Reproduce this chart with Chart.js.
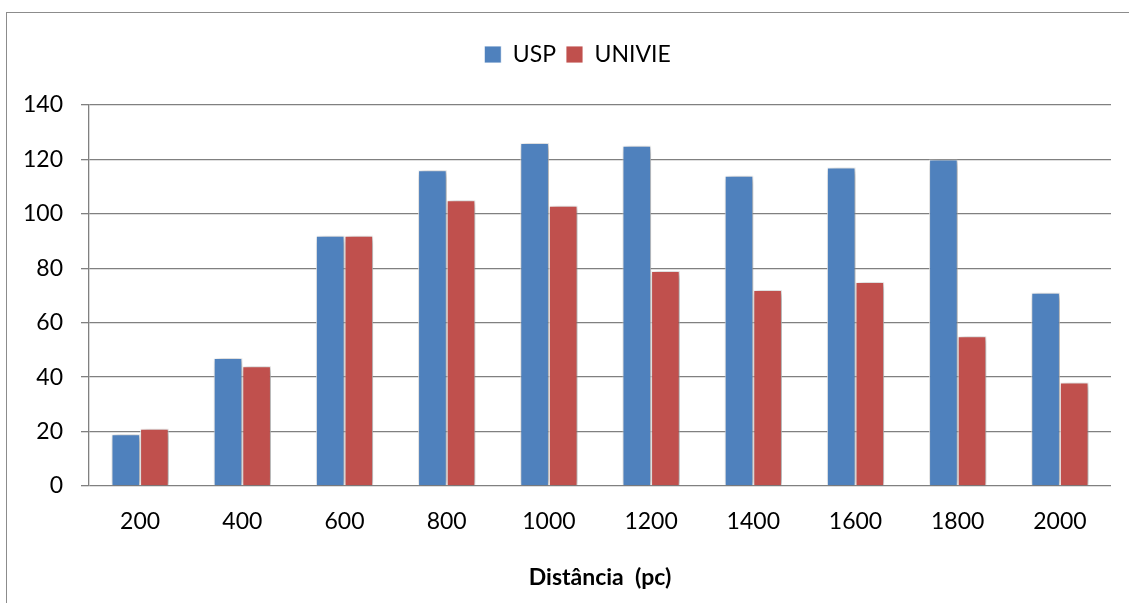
<!DOCTYPE html>
<html>
<head>
<meta charset="utf-8">
<script src="https://cdn.jsdelivr.net/npm/chart.js@4.4.1/dist/chart.umd.min.js"></script>
<style>
  body { margin: 0; background: #fff; overflow: hidden; }
  #frame { position: absolute; left: 6px; top: 12px; width: 1140px; height: 620px; border: 1px solid #8c8c8c; }
  #wrap { position: absolute; left: 0; top: 0; width: 1129px; height: 603px; }
</style>
</head>
<body>
<div id="frame"></div>
<div id="wrap"><canvas id="chart"></canvas></div>
<script>
const distances = ['200', '400', '600', '800', '1000', '1200', '1400', '1600', '1800', '2000'];
const usp = [19, 47, 92, 116, 126, 125, 114, 117, 120, 71];
const univie = [21, 44, 92, 105, 103, 79, 72, 75, 55, 38];
const yTicks = [0, 20, 40, 60, 80, 100, 120, 140];

const gridGrey = '#808080';
const font = 'Lato, "Open Sans", sans-serif';

// soft drop shadow behind the bars
const barShadow = {
  id: 'barShadow',
  beforeDatasetsDraw(chart) {
    const c = chart.ctx;
    c.save();
    c.shadowColor = 'rgba(0,0,0,0.45)';
    c.shadowBlur = 7;
    c.shadowOffsetX = 2;
    c.shadowOffsetY = 1;
  },
  afterDatasetsDraw(chart) { chart.ctx.restore(); }
};

// extra room under the legend, and nudge it over the plot centre
const legendGap = {
  id: 'legendGap',
  beforeInit(chart) {
    const fit = chart.legend.fit;
    chart.legend.fit = function () { fit.bind(chart.legend)(); this.height += 29; };
  },
  afterLayout(chart) {
    chart.legend.left += 22;
    chart.legend.right += 22;
  }
};

new Chart(document.getElementById('chart'), {
  type: 'bar',
  data: {
    labels: distances,
    datasets: [
      { label: 'USP', data: usp, backgroundColor: '#4f81bd', borderColor: 'rgba(255,255,255,0.85)', borderWidth: 1 },
      { label: 'UNIVIE', data: univie, backgroundColor: '#c0504d', borderColor: 'rgba(255,255,255,0.85)', borderWidth: 1 }
    ]
  },
  plugins: [barShadow, legendGap],
  options: {
    responsive: true,
    maintainAspectRatio: false,
    animation: false,
    layout: { padding: { top: 33, right: 18, left: 0, bottom: 0 } },
    datasets: { bar: { categoryPercentage: 0.56, barPercentage: 1 } },
    plugins: {
      tooltip: { enabled: false },
      legend: {
        position: 'top',
        labels: {
          color: '#000',
          font: { family: font, size: 23 },
          boxWidth: 17,
          boxHeight: 17,
          padding: 10
        }
      }
    },
    scales: {
      x: {
        grid: { display: false, drawTicks: false },
        border: { display: false },
        ticks: { color: '#000', font: { family: font, size: 23 }, padding: 22 },
        title: {
          display: true,
          text: 'Distância  (pc)',
          color: '#000',
          font: { family: font, size: 23, weight: 'bold' },
          padding: { top: 0, bottom: 12 }
        },
        afterFit(scale) { scale.height = 117; }
      },
      y: {
        min: 0,
        max: 140,
        afterBuildTicks(scale) { scale.ticks = yTicks.map(v => ({ value: v })); },
        grid: { color: gridGrey, lineWidth: 1.3, tickLength: 8 },
        border: { display: true, color: gridGrey, width: 1.3 },
        ticks: { color: '#000', font: { family: font, size: 23 }, padding: 18 },
        afterFit(scale) { scale.width = 89; }
      }
    }
  }
});
</script>
</body>
</html>
